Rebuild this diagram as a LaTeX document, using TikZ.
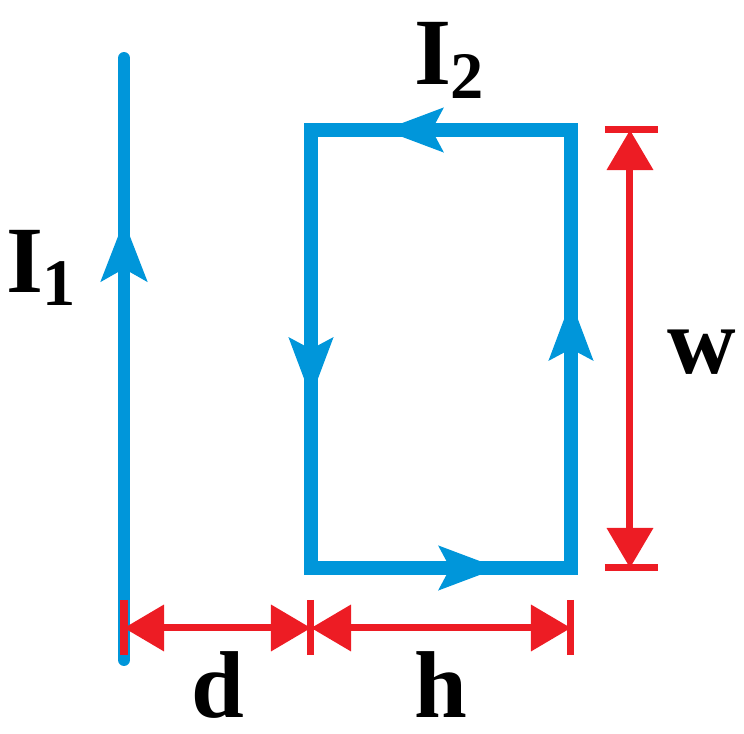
\documentclass[tikz,border=0pt]{standalone}
\usepackage{fontspec}
\setmainfont{Liberation Serif}
\usetikzlibrary{arrows.meta, decorations.markings}
\definecolor{wireblue}{RGB}{0,150,218}
\definecolor{dimred}{RGB}{237,28,36}
\tikzset{
  wire/.style={draw=wireblue, line width=12pt*0.01/0.0352778, line cap=round},
  loopwire/.style={draw=wireblue, line width=14pt*0.01/0.0352778, line join=miter},
  flow/.style={postaction={decorate, decoration={markings,
      mark=at position #1 with {\arrow[wireblue]{Stealth[length=0.6cm, width=0.45cm, inset=0.12cm]}}}}},
  dim/.style={draw=dimred, line width=0.07cm, {Triangle[length=0.4cm, width=0.45cm]}-{Triangle[length=0.4cm, width=0.45cm]}},
  dimbar/.style={draw=dimred, line width=0.07cm},
  lbl/.style={font=\bfseries\fontsize{27}{27}\selectfont, inner sep=0pt},
}
\begin{document}
\begin{tikzpicture}[x=0.01cm, y=-0.01cm]
  \useasboundingbox (0,0) rectangle (744,734);
  % long wire
  \coordinate (w0) at (124,660);
  \coordinate (w1) at (124,58);
  \draw[wire, flow=0.73] (w0) -- (w1);
  % loop corners
  \coordinate (tl) at (311,130);
  \coordinate (tr) at (571,130);
  \coordinate (bl) at (311,568);
  \coordinate (br) at (571,568);
  \draw[loopwire] (tl) -- (tr) -- (br) -- (bl) -- cycle;
  \path[flow=0.72] (tr) -- (tl);
  \path[flow=0.61] (tl) -- (bl);
  \path[flow=0.72] (bl) -- (br);
  \path[flow=0.61] (br) -- (tr);
  % dimensions
  \draw[dimbar] (605,130) -- (658,130);
  \draw[dimbar] (605,568) -- (658,568);
  \draw[dim] (630,130) -- (630,568);
  \draw[dimbar] (124,600) -- (124,655);
  \draw[dimbar] (311,600) -- (311,655);
  \draw[dimbar] (571,600) -- (571,655);
  \draw[dim] (124,628) -- (311,628);
  \draw[dim] (311,628) -- (571,628);
  % labels
  \node[lbl] (i1) at (42,268) {I\textsubscript{1}};
  \node[lbl] (i2) at (450,60) {I\textsubscript{2}};
  \node[lbl] (lw) at (702,352) {w};
  \node[lbl] (ld) at (218,685) {d};
  \node[lbl] (lh) at (441,685) {h};
\end{tikzpicture}
\end{document}
